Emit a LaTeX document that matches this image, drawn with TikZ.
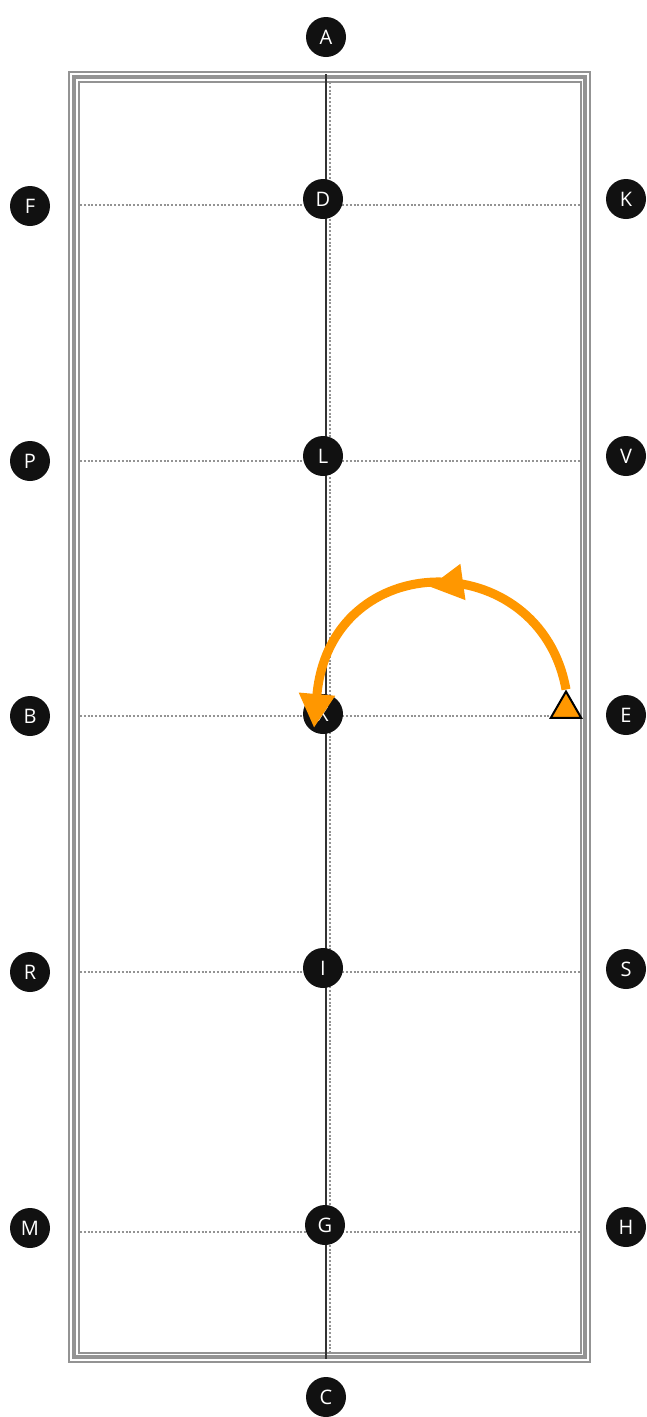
\documentclass[tikz,border=0pt]{standalone}
\usepackage{fontspec}
\setmainfont{Open Sans}
\usetikzlibrary{arrows.meta,shapes.geometric,decorations.markings}
\definecolor{turnorange}{HTML}{FF9700}
\definecolor{spotblack}{HTML}{111111}
\begin{document}
\begin{tikzpicture}[x=1pt, y=-1pt,
  spot/.style={circle, fill=spotblack, text=white, minimum size=40pt,
               inner sep=0pt, font=\fontsize{20}{20}\selectfont},
  gridline/.style={gray!85, line width=2pt, dash pattern=on 2pt off 1.8pt},
  rim/.style={gray!85},
  turn/.style={turnorange, line width=9pt,
               -{Triangle[length=34pt,width=34pt]}}
]
\useasboundingbox (0,0) rectangle (646,1417);

% border of the field
\draw[rim, line width=2pt] (69,72) rectangle (590,1361.5);
\draw[rim, line width=4pt] (73.5,76.5) rectangle (585,1357);
\draw[rim, line width=2pt] (78.5,81.5) rectangle (580.5,1352.5);

% centre line
\draw[black!80, line width=1.2pt] (326,74) -- (326,1359);
\draw[gridline] (330,82) -- (330,1352);

% cross lines
\draw[gridline] (80,205) -- (580,205);
\draw[gridline] (80,461) -- (580,461);
\draw[gridline] (80,716) -- (580,716);
\draw[gridline] (80,972) -- (580,972);
\draw[gridline] (80,1232) -- (580,1232);

% marks
\node[spot] (A) at (326,37) {A};
\node[spot] (C) at (326,1397) {C};

\node[spot] (F) at (30,206) {F};
\node[spot] (D) at (323,199) {D};
\node[spot] (K) at (626,199) {K};

\node[spot] (P) at (30,461) {P};
\node[spot] (L) at (323,456) {L};
\node[spot] (V) at (626,456) {V};

\node[spot] (B) at (30,716) {B};
\node[spot] (X) at (323,714) {X};
\node[spot] (E) at (626,715) {E};

\node[spot] (R) at (30,972) {R};
\node[spot] (I) at (323,968) {I};
\node[spot] (S) at (626,969) {S};

\node[spot] (M) at (30,1228) {M};
\node[spot] (G) at (325,1225) {G};
\node[spot] (H) at (626,1227) {H};

% start marker and turn
\node[regular polygon, regular polygon sides=3, fill=turnorange, draw=black,
      line width=2pt, minimum size=35pt, inner sep=0pt] (start) at (566,709) {};
\coordinate (tip) at (314,728);

\draw[turn, postaction={decorate},
      decoration={markings, mark=at position 0.49 with
        {\arrow{Triangle[length=34pt,width=34pt]}}}]
  (start.north) .. controls (540,545) and (330,545) .. (tip);
\end{tikzpicture}
\end{document}
